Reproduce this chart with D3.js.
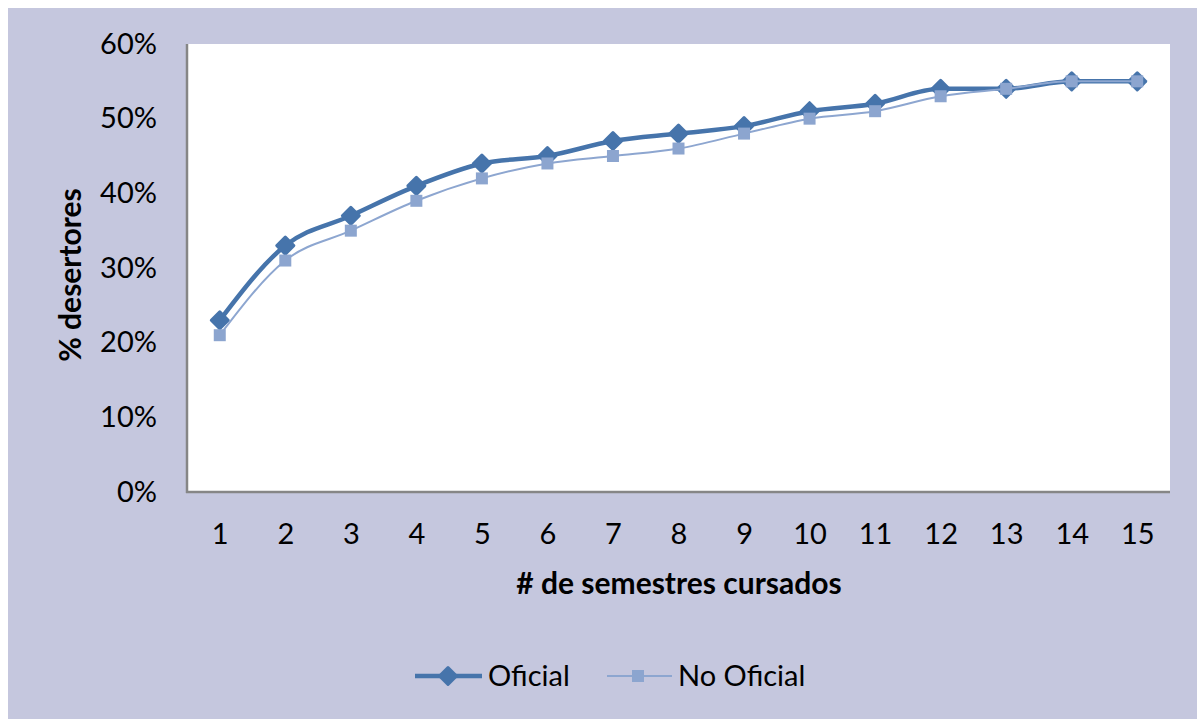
<!DOCTYPE html>
<html>
<head>
<meta charset="utf-8">
<script src="https://cdn.jsdelivr.net/npm/d3@7"></script>
<style>
  body { margin: 0; background: #fff; }
  text { font-family: Lato, "Open Sans", sans-serif; fill: #000; }
</style>
</head>
<body>
<div id="chart"></div>
<script>
// data
var semestres = [1, 2, 3, 4, 5, 6, 7, 8, 9, 10, 11, 12, 13, 14, 15];
var oficial = [23, 33, 37, 41, 44, 45, 47, 48, 49, 51, 52, 54, 54, 55, 55];
var noOficial = [21, 31, 35, 39, 42, 44, 45, 46, 48, 50, 51, 53, 54, 55, 55];
var yTicks = [0, 10, 20, 30, 40, 50, 60];

var svgWidth = 1197;
var svgHeight = 719;

var margin = { top: 44, right: 27, bottom: 227, left: 187 };
var width = svgWidth - margin.left - margin.right;
var height = svgHeight - margin.top - margin.bottom;

var svg = d3.select("#chart")
  .append("svg")
  .attr("width", svgWidth)
  .attr("height", svgHeight);

// lavender chart area background
svg.append("rect")
  .attr("x", 8)
  .attr("y", 8)
  .attr("width", svgWidth - 8)
  .attr("height", svgHeight - 8)
  .attr("fill", "#c5c7de");

var chartGroup = svg.append("g")
  .attr("transform", `translate(${margin.left}, ${margin.top})`);

chartGroup.append("rect")
  .attr("width", width)
  .attr("height", height)
  .attr("fill", "#fff");

var xScale = d3.scalePoint()
  .domain(semestres)
  .range([0, width])
  .padding(0.5);

var yScale = d3.scaleLinear()
  .domain([0, 60])
  .range([height, 0]);

// axes
var bottomAxis = d3.axisBottom(xScale).tickSize(0).tickPadding(31);
var leftAxis = d3.axisLeft(yScale).tickValues(yTicks).tickSize(0).tickPadding(30)
  .tickFormat(d => d + "%");

var xAxisG = chartGroup.append("g")
  .attr("transform", `translate(0, ${height})`)
  .call(bottomAxis);
var yAxisG = chartGroup.append("g")
  .call(leftAxis);

[xAxisG, yAxisG].forEach(function(g) {
  g.select(".domain").attr("stroke", "#868686").attr("stroke-width", 2.5);
  g.selectAll("text").style("font-size", "29px").attr("fill", "#000");
});
xAxisG.select(".domain").attr("d", `M-1,0H${width}`);
yAxisG.select(".domain").attr("d", `M0,${height + 1}V0`);

var line = d3.line()
  .x((d, i) => xScale(semestres[i]))
  .y(d => yScale(d))
  .curve(d3.curveMonotoneX);

// Oficial series
chartGroup.append("path")
  .datum(oficial)
  .attr("d", line)
  .attr("fill", "none")
  .attr("stroke", "#4674ab")
  .attr("stroke-width", 4.5);

chartGroup.selectAll(".dm")
  .data(oficial)
  .enter()
  .append("rect")
  .attr("class", "dm")
  .attr("x", -7.5)
  .attr("y", -7.5)
  .attr("width", 15)
  .attr("height", 15)
  .attr("rx", 1.5)
  .attr("transform", (d, i) => `translate(${xScale(semestres[i])}, ${yScale(d)}) rotate(45)`)
  .attr("fill", "#4674ab");

// No Oficial series (drawn on top)
chartGroup.append("path")
  .datum(noOficial)
  .attr("d", line)
  .attr("fill", "none")
  .attr("stroke", "#8da6d0")
  .attr("stroke-width", 2);

chartGroup.selectAll(".sq")
  .data(noOficial)
  .enter()
  .append("path")
  .attr("class", "sq")
  .attr("d", d3.symbol().type(d3.symbolSquare).size(144))
  .attr("transform", (d, i) => `translate(${xScale(semestres[i])}, ${yScale(d)})`)
  .attr("fill", "#8ca5cf");

// axis titles
svg.append("text")
  .attr("transform", "translate(81, 275) rotate(-90)")
  .style("text-anchor", "middle")
  .style("font-size", "30px")
  .style("font-weight", "bold")
  .text("% desertores");

svg.append("text")
  .attr("x", 679)
  .attr("y", 594)
  .style("text-anchor", "middle")
  .style("font-size", "30px")
  .style("font-weight", "bold")
  .text("# de semestres cursados");

// legend
var legend = svg.append("g").attr("transform", "translate(415, 676)");

legend.append("line")
  .attr("x1", 0).attr("x2", 67)
  .attr("stroke", "#4674ab").attr("stroke-width", 4.5);
legend.append("rect")
  .attr("x", -7.5).attr("y", -7.5).attr("width", 15).attr("height", 15).attr("rx", 1.5)
  .attr("transform", "translate(33, 0) rotate(45)")
  .attr("fill", "#4674ab");
legend.append("text")
  .attr("x", 73).attr("dy", "0.35em")
  .style("font-size", "29px")
  .text("Oficial");

legend.append("line")
  .attr("x1", 192).attr("x2", 257)
  .attr("stroke", "#8da6d0").attr("stroke-width", 2);
legend.append("path")
  .attr("d", d3.symbol().type(d3.symbolSquare).size(144))
  .attr("transform", "translate(223, 0)")
  .attr("fill", "#8ca5cf");
legend.append("text")
  .attr("x", 263).attr("dy", "0.35em")
  .style("font-size", "29px")
  .text("No Oficial");
</script>
</body>
</html>
